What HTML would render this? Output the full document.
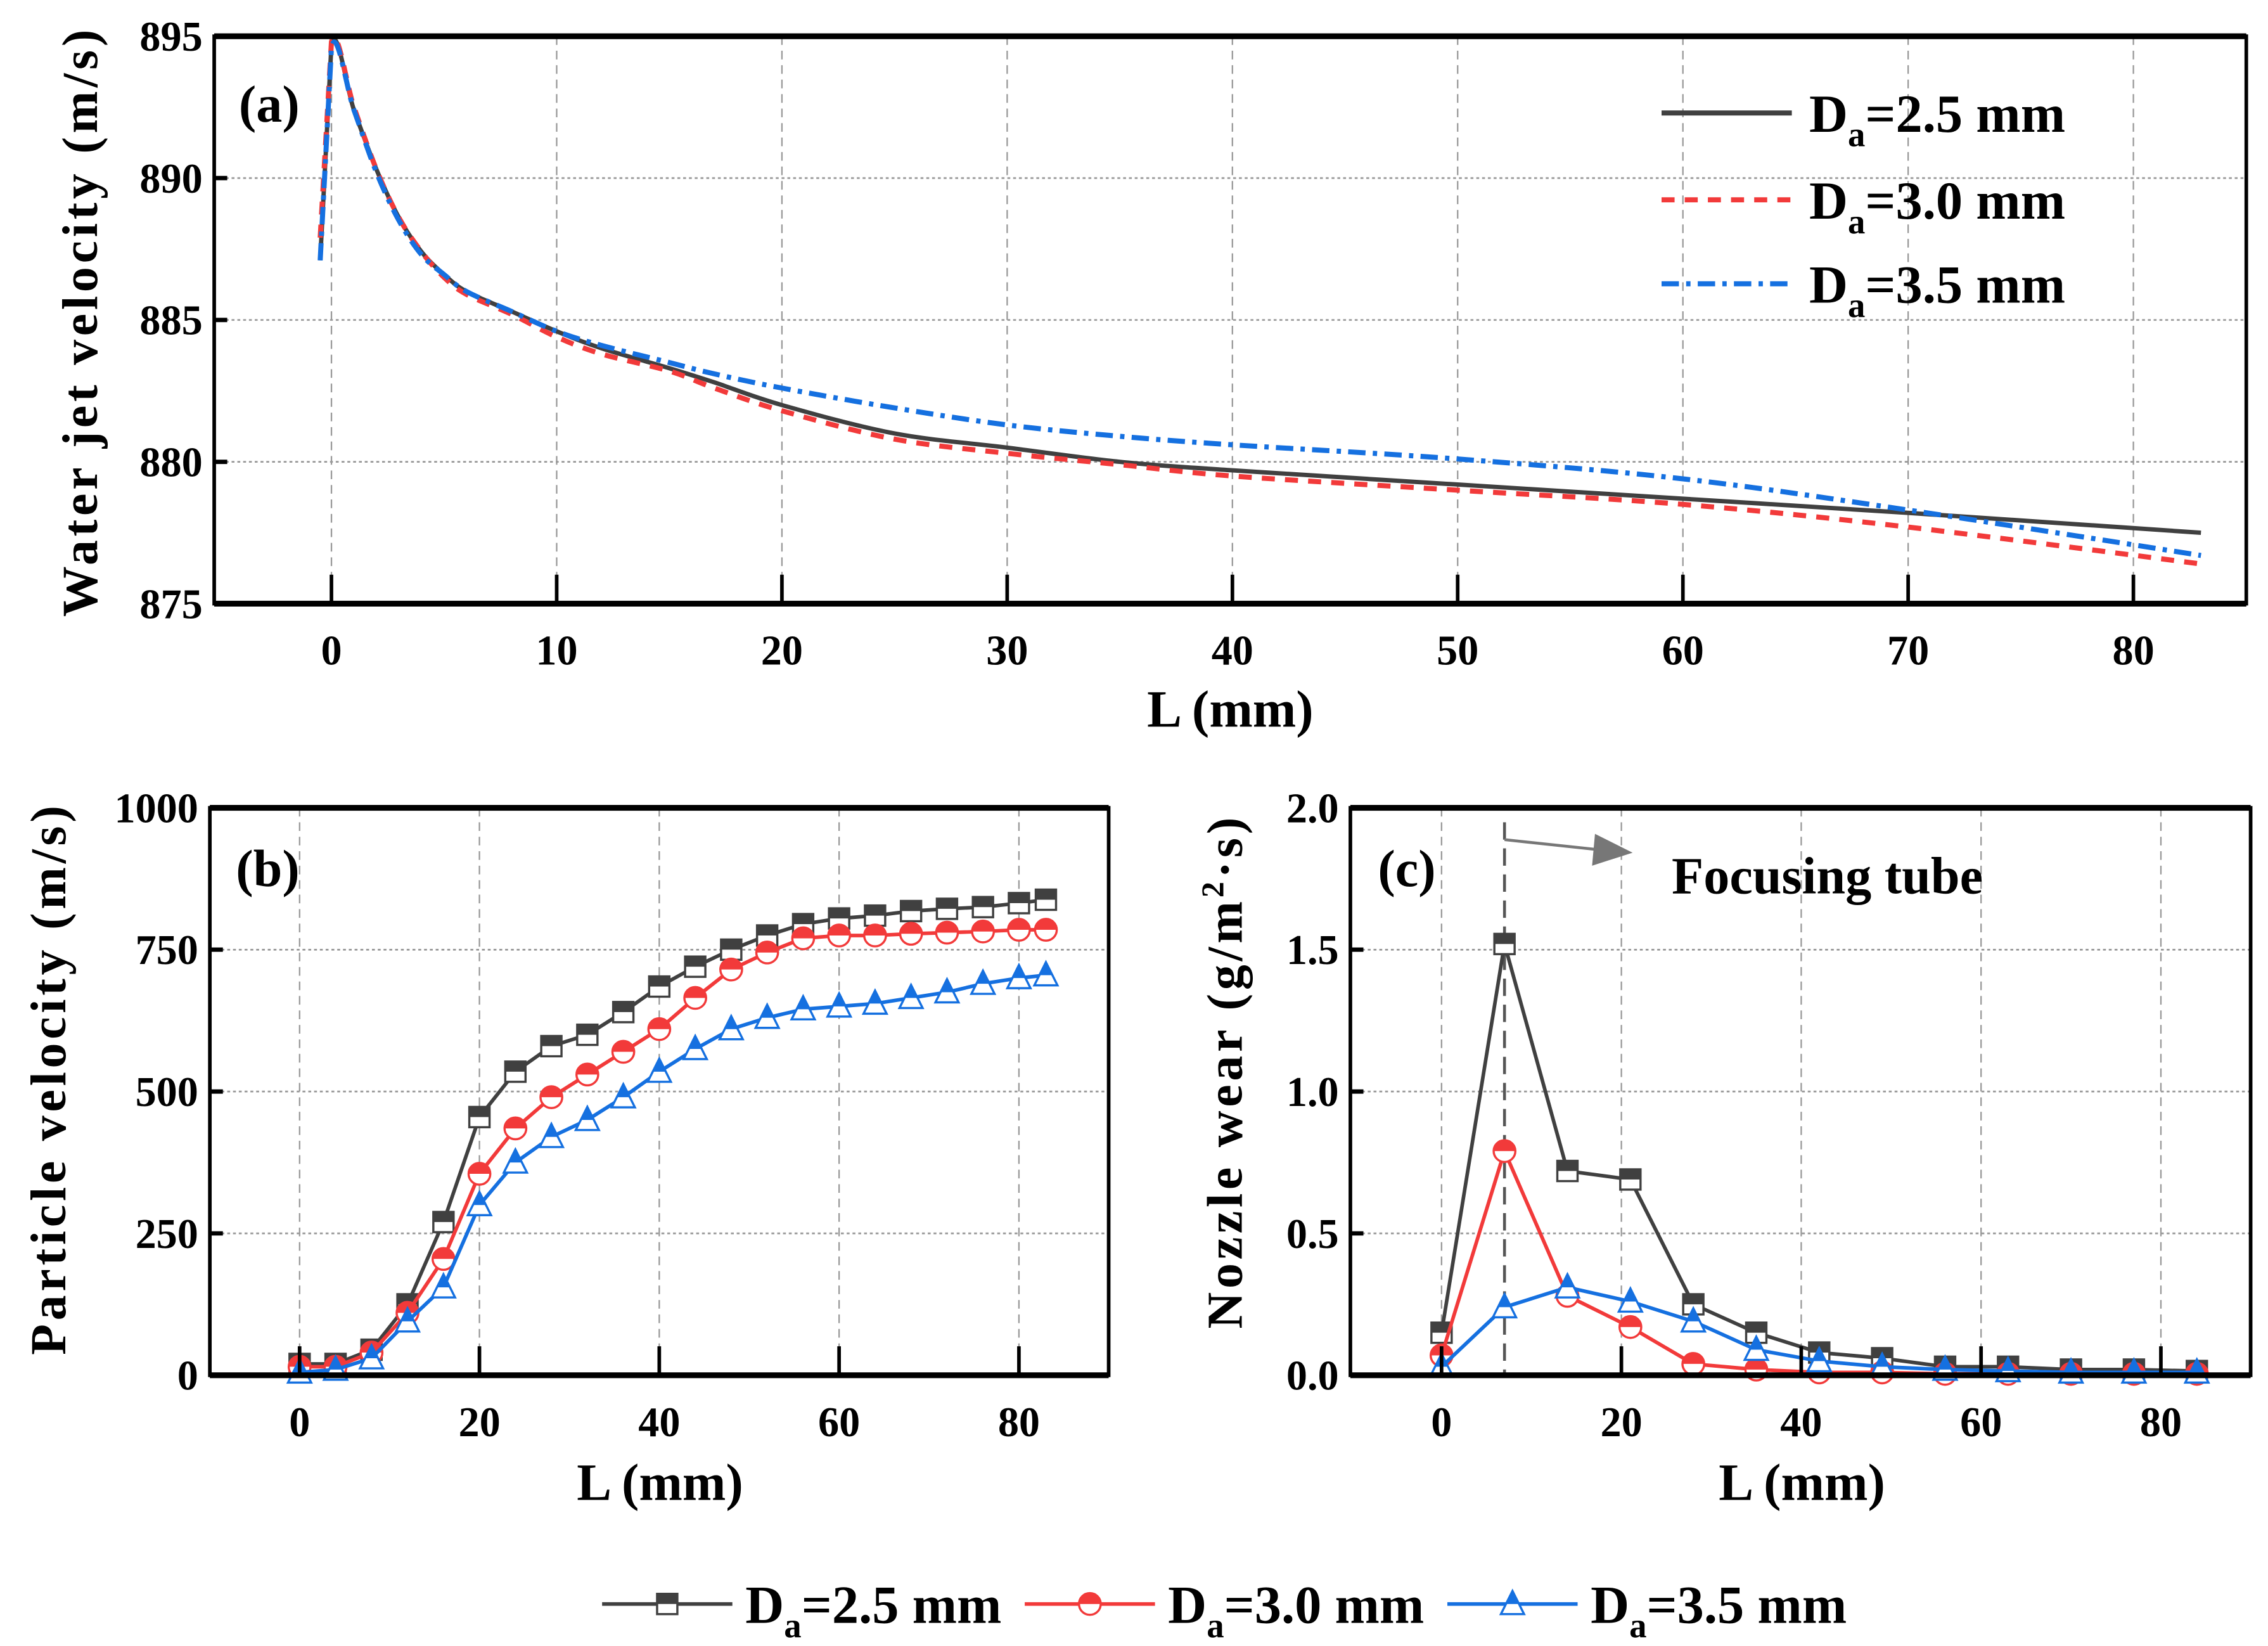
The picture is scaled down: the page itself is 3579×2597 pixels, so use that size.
<!DOCTYPE html>
<html><head><meta charset="utf-8"><style>
html,body{margin:0;padding:0;background:#fff}
svg{display:block}
text{font-family:"Liberation Serif",serif;font-weight:bold;fill:#000}
</style></head><body>
<svg id="fig" width="3579" height="2597" viewBox="0 0 1567 1137" xmlns="http://www.w3.org/2000/svg">
<rect width="1567" height="1137" fill="#fff"/>
<g id="grid"></g>
<g id="marks"></g>
<g id="axes"></g>
<g id="labels">
<text x="165" y="84" font-size="36">(a)</text>
<text x="163" y="612" font-size="36">(b)</text>
<text x="952" y="612" font-size="36">(c)</text>
<text font-size="35" letter-spacing="2.5" text-anchor="middle" transform="translate(67,222) rotate(-90)">Water jet velocity (m/s)</text>
<text x="850" y="502" font-size="36" text-anchor="middle">L (mm)</text>
<text font-size="35" letter-spacing="2.5" text-anchor="middle" transform="translate(45,745) rotate(-90)">Particle velocity (m/s)</text>
<text x="456" y="1036" font-size="36" text-anchor="middle">L (mm)</text>
<text font-size="35" letter-spacing="2.5" text-anchor="middle" transform="translate(858,740) rotate(-90)">Nozzle wear (g/m<tspan font-size="22" dy="-13">2</tspan><tspan dy="13">·s)</tspan></text>
<text x="1245" y="1036" font-size="36" text-anchor="middle">L (mm)</text>
<text x="1155" y="617" font-size="36">Focusing tube</text>
</g>
<g id="legend"></g>
</svg>
<script>
// ---------- Data ----------
const aL25 = [-0.5,0,1,2,3,4,5,6,8,10,12,15,17,20,25,30,35,40,50,60,70,83];
const aV25 = [887.1,894.7,892.4,890.3,888.6,887.4,886.6,886.0,885.3,884.6,884.0,883.3,882.8,882.0,881.0,880.5,880.0,879.7,879.2,878.7,878.2,877.5];
const aL30 = [-0.5,0,1,2,3,4,5,6,8,10,12,15,17,20,25,30,35,40,50,60,70,83];
const aV30 = [887.9,894.8,892.5,890.3,888.6,887.4,886.5,885.9,885.2,884.4,883.8,883.2,882.6,881.8,880.8,880.3,879.9,879.5,879.0,878.5,877.7,876.4];
const aL35 = [-0.5,0,1,2,3,4,5,6,8,10,12,15,17,20,25,30,35,40,50,60,70,83];
const aV35 = [887.1,894.6,892.4,890.2,888.5,887.3,886.6,886.0,885.3,884.6,884.1,883.5,883.1,882.6,881.9,881.3,880.9,880.6,880.1,879.4,878.3,876.7];
const aXTicks = [0,10,20,30,40,50,60,70,80];
const aYTicks = [875,880,885,890,895];

const bL = [0,4,8,12,16,20,24,28,32,36,40,44,48,52,56,60,64,68,72,76,80,83];
const bV25 = [20,20,45,125,270,455,535,580,600,640,685,720,750,775,795,805,810,818,822,825,832,838];
const bV30 = [15,15,40,110,205,355,435,490,530,570,610,665,715,745,770,775,775,778,780,782,785,785];
const bV35 = [5,10,30,95,155,300,375,420,450,490,535,575,610,630,645,650,655,665,675,690,700,705];
const bXTicks = [0,20,40,60,80];
const bYTicks = [0,250,500,750,1000];

const cL = [0,7,14,21,28,35,42,49,56,63,70,77,84];
const cV25 = [0.15,1.52,0.72,0.69,0.25,0.15,0.08,0.06,0.03,0.03,0.02,0.02,0.015];
const cV30 = [0.07,0.79,0.28,0.17,0.04,0.02,0.01,0.01,0.005,0.005,0.005,0.005,0.005];
const cV35 = [0.03,0.24,0.31,0.26,0.19,0.09,0.05,0.03,0.02,0.015,0.01,0.01,0.01];
const cXTicks = [0,20,40,60,80];
const cYTicks = [0.0,0.5,1.0,1.5,2.0];
const cYLabels = ["0.0","0.5","1.0","1.5","2.0"];
const focusL = 7;

const C25="#404040", C30="#f23a3a", C35="#1570e0";
const NS="http://www.w3.org/2000/svg";
function mk(tag, attrs, parent){const e=document.createElementNS(NS,tag);for(const k in attrs)e.setAttribute(k,attrs[k]);parent.appendChild(e);return e;}
const G=document.getElementById('grid'),M=document.getElementById('marks'),A=document.getElementById('axes'),LG=document.getElementById('legend');

// ---------- Axis functions ----------
const PA={x0:148,x1:1552,y0:25,y1:417,xs:L=>229+L*15.5625,ys:v=>417-(v-875)*19.6};
const PB={x0:145,x1:766,y0:558,y1:950,xs:L=>207+L*6.2125,ys:v=>950-v*0.392};
const PC={x0:933,x1:1555,y0:558,y1:950,xs:L=>996+L*6.2125,ys:v=>950-v*196};

function panel(P,xt,yt,ylab,name){
  xt.forEach(t=>{const l=mk('line',{x1:P.xs(t),x2:P.xs(t),y1:P.y0,y2:P.y1,stroke:'#999','stroke-width':1,'stroke-dasharray':'6,4'},G);
    });
  yt.forEach((t,i)=>{const y=P.ys(t);
    if(i>0&&i<yt.length-1){const l=mk('line',{x1:P.x0,x2:P.x1,y1:y,y2:y,stroke:'#999','stroke-width':1.2,'stroke-dasharray':'2,2'},G);
    }
    const tk=mk('line',{x1:P.x0,x2:P.x0+9,y1:y,y2:y,stroke:'#000','stroke-width':3},A);
    
    const tx=mk('text',{x:P.x0-8,y:y+10,'font-size':29,'text-anchor':'end'},A);tx.textContent=ylab[i];
    });
  xt.forEach(t=>{const x=P.xs(t);
    const tk=mk('line',{x1:x,x2:x,y1:P.y1,y2:P.y1-20,stroke:'#000','stroke-width':2.5},A);
    
    const tx=mk('text',{x:x,y:P.y1+42,'font-size':29,'text-anchor':'middle'},A);tx.textContent=t;
    });
  const f=mk('rect',{x:P.x0,y:P.y0,width:P.x1-P.x0,height:P.y1-P.y0,fill:'none',stroke:'#000','stroke-width':2.5},A);
  
  [P.y0,P.y1].forEach(y=>{const l=mk('line',{x1:P.x0,x2:P.x1,y1:y,y2:y,stroke:'#000','stroke-width':4},A);
    });
}
panel(PA,aXTicks,aYTicks,aYTicks.map(String),'a');
panel(PB,bXTicks,bYTicks,bYTicks.map(String),'b');
panel(PC,cXTicks,cYTicks,cYLabels,'c');

function smooth(pts){let d='M'+pts[0][0]+','+pts[0][1];
  for(let i=0;i<pts.length-1;i++){const p0=pts[Math.max(0,i-1)],p1=pts[i],p2=pts[i+1],p3=pts[Math.min(pts.length-1,i+2)];
    const t=(i===0)?0:1/6, t2=(i+1===pts.length-1||i===0)?0:1/6;
    d+=' C'+(p1[0]+(p2[0]-p0[0])*t)+','+(p1[1]+(p2[1]-p0[1])*t)+' '+(p2[0]-(p3[0]-p1[0])*t2)+','+(p2[1]-(p3[1]-p1[1])*t2)+' '+p2[0]+','+p2[1];}
  return d;}

[[aL25,aV25,C25,'',3,'a-line-2-5mm'],[aL30,aV30,C30,'9,7',3.5,'a-line-3-0mm'],[aL35,aV35,C35,'12,5,3,5',3.5,'a-line-3-5mm']].forEach(s=>{
  const pts=s[0].map((L,i)=>[PA.xs(L),PA.ys(s[1][i])]);
  const p=mk('path',{d:smooth(pts),fill:'none',stroke:s[2],'stroke-width':s[4],'stroke-dasharray':s[3]},M);
  });

function marker(kind,x,y,c,parent,name){
  const g=mk('g',{},parent);
  
  const r=7;
  if(kind==='sq'){mk('rect',{x:x-r,y:y-r,width:2*r,height:2*r,fill:'#fff',stroke:c,'stroke-width':1.5},g);
    mk('rect',{x:x-r,y:y-r,width:2*r,height:r,fill:c},g);}
  else if(kind==='ci'){mk('circle',{cx:x,cy:y,r:r+0.5,fill:'#fff',stroke:c,'stroke-width':1.5},g);
    mk('path',{d:`M${x-r-0.5},${y} A${r+0.5},${r+0.5} 0 0 1 ${x+r+0.5},${y} Z`,fill:c},g);}
  else {mk('path',{d:`M${x},${y-r-2} L${x+r+1},${y+r} L${x-r-1},${y+r} Z`,fill:'#fff',stroke:c,'stroke-width':1.5},g);
    mk('path',{d:`M${x},${y-r-2} L${x+(r+1)/2+0.5},${y} L${x-(r+1)/2-0.5},${y} Z`,fill:c},g);}
}
function series(P,Ls,Vs,c,kind,name){
  const pts=Ls.map((L,i)=>[P.xs(L),P.ys(Vs[i])]);
  const pl=mk('polyline',{points:pts.map(p=>p.join(',')).join(' '),fill:'none',stroke:c,'stroke-width':2.5},M);
  
  pts.forEach(p=>marker(kind,p[0],p[1],c,M,name+'-point'));
}
series(PB,bL,bV25,C25,'sq','b-2-5mm');
series(PB,bL,bV30,C30,'ci','b-3-0mm');
series(PB,bL,bV35,C35,'tr','b-3-5mm');

const fx=PC.xs(focusL);
const fl=mk('line',{x1:fx,x2:fx,y1:568,y2:950,stroke:'#555','stroke-width':2,'stroke-dasharray':'12,6'},M);

const fa=mk('line',{x1:fx,x2:1105,y1:580,y2:587,stroke:'#777','stroke-width':2},M);

const fh=mk('path',{d:'M1128,589 L1102,576 L1100,598 Z',fill:'#777'},M);


series(PC,cL,cV25,C25,'sq','c-2-5mm');
series(PC,cL,cV30,C30,'ci','c-3-0mm');
series(PC,cL,cV35,C35,'tr','c-3-5mm');

[[C25,'',78,'2.5'],[C30,'9,7',138,'3.0'],[C35,'12,5,3,5',196,'3.5']].forEach(s=>{
  const l=mk('line',{x1:1148,x2:1238,y1:s[2],y2:s[2],stroke:s[0],'stroke-width':3.5,'stroke-dasharray':s[1]},LG);
  
  const t=mk('text',{x:1250,y:s[2]+13,'font-size':37},LG);
  t.innerHTML='D<tspan font-size="24" dy="10">a</tspan><tspan dy="-10">='+s[3]+' mm</tspan>';
  });

[[416,C25,'sq','2.5'],[708,C30,'ci','3.0'],[1000,C35,'tr','3.5']].forEach(s=>{
  const l=mk('line',{x1:s[0],x2:s[0]+90,y1:1108,y2:1108,stroke:s[1],'stroke-width':2.5},LG);
  
  marker(s[2],s[0]+45,1108,s[1],LG,'legend-marker');
  const t=mk('text',{x:s[0]+99,y:1121,'font-size':37},LG);
  t.innerHTML='D<tspan font-size="24" dy="10">a</tspan><tspan dy="-10">='+s[3]+' mm</tspan>';
  });
</script>
</body></html>
